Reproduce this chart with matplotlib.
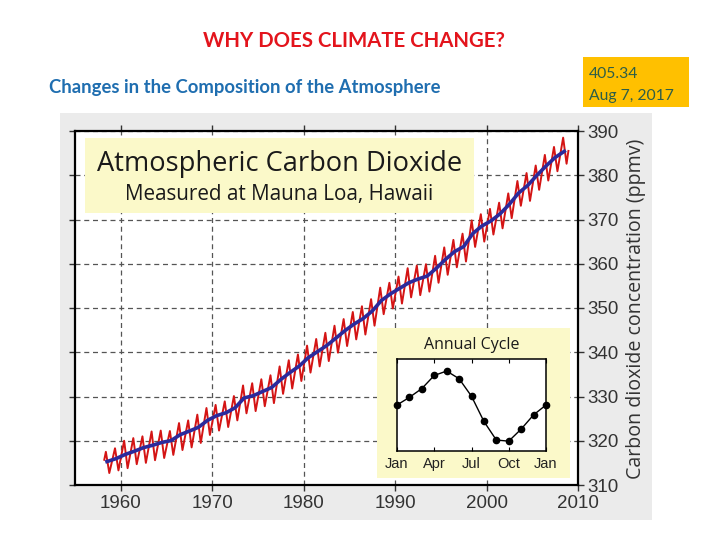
import matplotlib
matplotlib.use("Agg")
import matplotlib.pyplot as plt
from matplotlib.patches import Rectangle

# Mauna Loa CO2 (ppmv)
years = list(range(1958, 2009))
annual_mean = [315.3, 315.97, 316.91, 317.64, 318.45, 318.99, 319.62, 320.04, 321.37, 322.18,
               323.05, 324.62, 325.68, 326.32, 327.45, 329.68, 330.19, 331.12, 332.03, 333.84,
               335.41, 336.84, 338.76, 340.12, 341.48, 343.15, 344.85, 346.35, 347.61, 349.31,
               351.69, 353.20, 354.45, 355.70, 356.54, 357.21, 358.96, 360.97, 362.74, 363.88,
               366.84, 368.54, 369.71, 371.32, 373.45, 375.98, 377.70, 379.98, 382.09, 384.02,
               385.40]
may_peak = [317.5, 318.3, 320.0, 320.6, 321.0, 322.1, 322.3, 322.2, 324.0, 324.6,
            325.9, 327.4, 328.1, 328.9, 330.1, 332.5, 333.0, 333.9, 334.8, 336.8,
            338.2, 339.5, 341.5, 343.0, 344.4, 346.0, 347.5, 349.1, 350.4, 352.0,
            354.6, 355.7, 357.1, 359.0, 359.6, 359.9, 361.8, 363.7, 365.4, 366.8,
            369.8, 371.2, 372.4, 373.8, 375.9, 378.7, 380.5, 382.2, 384.6, 386.4,
            388.5]
autumn_low = [312.7, 313.3, 313.8, 314.7, 315.0, 315.6, 316.1, 316.8, 317.9, 318.5,
              319.5, 321.3, 322.3, 323.1, 324.6, 326.2, 326.7, 327.8, 328.5, 330.6,
              331.8, 333.5, 335.4, 336.8, 338.0, 339.9, 341.4, 342.9, 344.0, 346.0,
              348.6, 349.9, 351.0, 352.4, 352.9, 353.7, 355.7, 357.5, 359.2, 360.5,
              363.8, 365.0, 366.6, 368.0, 370.3, 373.1, 374.2, 376.7, 378.8, 380.9,
              382.6]
first_obs = (1958.2, 315.7)
last_obs = (2008.95, 385.5)

# annual cycle inset (anomaly, ppmv)
cycle_months = list(range(13))
cycle_values = [0.0, 0.7, 1.5, 2.7, 3.1, 2.4, 0.8, -1.5, -3.2, -3.3, -2.2, -0.9, 0.0]
cycle_ticks = [0, 3, 6, 9, 12]
cycle_labels = ["Jan", "Apr", "Jul", "Oct", "Jan"]

x_ticks = [1960, 1970, 1980, 1990, 2000, 2010]
y_ticks = [310, 320, 330, 340, 350, 360, 370, 380, 390]

W, H = 720, 540


def fx(px):
    return px / W


def fy(py):
    return 1 - py / H


fig = plt.figure(figsize=(7.2, 5.4), dpi=100)
fig.patch.set_facecolor("white")

# slide text
fig.text(fx(354), fy(47), "WHY DOES CLIMATE CHANGE?", color="#e3141c", fontsize=14.7,
         fontweight="bold", family="Lato", ha="center", va="baseline")
fig.text(fx(49), fy(93), "Changes in the Composition of the Atmosphere", color="#1f6eb0",
         fontsize=13.3, fontweight="bold", family="Lato", ha="left", va="baseline")
fig.patches.append(Rectangle((fx(583), fy(107)), (689 - 583) / W, (107 - 57) / H,
                             transform=fig.transFigure, facecolor="#ffc000", edgecolor="none"))
fig.text(fx(589), fy(78), "405.34", color="#2e5e48", fontsize=11.3, family="Lato", va="baseline")
fig.text(fx(589), fy(100), "Aug 7, 2017", color="#2e5e48", fontsize=11.3, family="Lato",
         va="baseline")

# gray image panel
fig.patches.append(Rectangle((fx(60), fy(520)), (652 - 60) / W, (520 - 113) / H,
                             transform=fig.transFigure, facecolor="#ebebeb", edgecolor="none",
                             zorder=-1))

ax = fig.add_axes([fx(75), fy(485), (578 - 75) / W, (485 - 131) / H])
ax.set_facecolor("white")
ax.set_xlim(1955, 2010)
ax.set_ylim(310, 390)
ax.set_axisbelow(True)
ax.grid(True, color="#555555", linestyle=(0, (4, 3)), linewidth=0.9)

red_t = [first_obs[0]]
red_v = [first_obs[1]]
for yr, hi, lo in zip(years, may_peak, autumn_low):
    red_t += [yr + 0.375, yr + 0.75]
    red_v += [hi, lo]
red_t.append(last_obs[0])
red_v.append(last_obs[1])
ax.plot(red_t, red_v, color="#d41414", linewidth=1.4, zorder=3)
ax.plot([y + 0.5 for y in years], annual_mean, color="#2b2a9c", linewidth=2.6, zorder=4)

ax.set_xticks(x_ticks)
ax.set_yticks(y_ticks)
ax.tick_params(axis="both", direction="out", length=4, width=1, color="#333333",
               top=True, right=True, left=True, bottom=True,
               labelleft=False, labelright=True, labelsize=13.5, labelcolor="#333333", pad=3)
for lab in ax.get_xticklabels() + ax.get_yticklabels():
    lab.set_family("Liberation Sans")
for s in ax.spines.values():
    s.set_linewidth(1.6)
    s.set_color("black")

ax.add_patch(Rectangle((0.02, 0.768), 0.773, 0.212, transform=ax.transAxes,
                       facecolor="#fbf9c9", edgecolor="none", zorder=2))
ax.text(0.4066, 0.887, "Atmospheric Carbon Dioxide", transform=ax.transAxes, ha="center",
        va="baseline", fontsize=19.6, family="Open Sans", color="#1a1a1a", zorder=5)
ax.text(0.4056, 0.804, "Measured at Mauna Loa, Hawaii", transform=ax.transAxes, ha="center",
        va="baseline", fontsize=14.9, family="Open Sans", color="#1a1a1a", zorder=5)

fig.text(fx(636), fy(309), "Carbon dioxide concentration (ppmv)", rotation=90, ha="center",
         va="center", fontsize=14.1, family="Open Sans", color="#333333")

# inset
box = fig.add_axes([fx(377), fy(478), (570 - 377) / W, (478 - 328) / H])
box.set_facecolor("#fbf9c9")
box.set_xticks([])
box.set_yticks([])
for s in box.spines.values():
    s.set_visible(False)
fig.text(fx(472), fy(349), "Annual Cycle", ha="center", va="baseline", fontsize=11.5,
         family="Open Sans", color="#1a1a1a")

ins = fig.add_axes([fx(397), fy(451), (546 - 397) / W, (451 - 359) / H])
ins.set_facecolor("white")
ins.plot(cycle_months, cycle_values, color="black", linewidth=1, marker="o", markersize=4.5,
         clip_on=False)
ins.set_xlim(0, 12)
ins.set_ylim(-4.2, 4.2)
ins.set_yticks([])
ins.set_xticks(cycle_ticks)
ins.set_xticklabels(cycle_labels)
ins.tick_params(axis="x", direction="in", length=3, top=True, bottom=True, labelsize=10.5,
                labelcolor="#222222", pad=4)
for lab in ins.get_xticklabels():
    lab.set_family("Liberation Sans")
for s in ins.spines.values():
    s.set_linewidth(1.1)

fig.savefig("out.png", dpi=100)
